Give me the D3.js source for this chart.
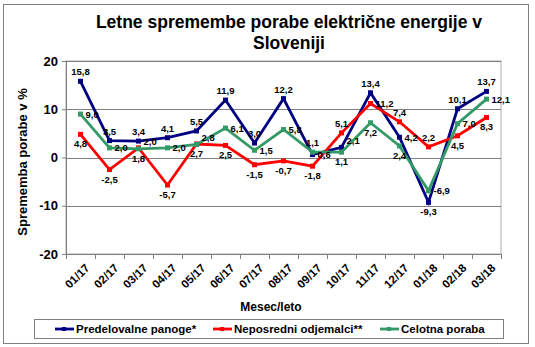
<!DOCTYPE html>
<html><head><meta charset="utf-8">
<script src="https://cdn.jsdelivr.net/npm/d3@7"></script>
<style>body{margin:0;background:#fff}svg{display:block;font-family:"Liberation Sans",Arial,sans-serif}</style>
</head><body><svg id="c" width="535" height="347"></svg>
<script>
const months = ["01/17","02/17","03/17","04/17","05/17","06/17","07/17","08/17","09/17","10/17","11/17","12/17","01/18","02/18","03/18"];
const predelovalne = [15.8,3.5,3.4,4.1,5.5,11.9,3.0,12.2,0.6,2.1,13.4,4.2,-9.3,10.1,13.7];
const neposredni = [4.8,-2.5,2.0,-5.7,2.8,2.5,-1.5,-0.7,-1.8,5.1,11.2,7.4,2.2,4.5,8.3];
const celotna = [9.0,2.0,1.8,2.0,2.7,6.1,1.5,5.8,1.1,1.1,7.2,2.4,-6.9,7.0,12.1];
const yTicks = [-20,-10,0,10,20];
const seriesNames = ["Predelovalne panoge*","Neposredni odjemalci**","Celotna poraba"];

const series = [
  {name:seriesNames[0], values:predelovalne, color:"#000080"},
  {name:seriesNames[1], values:neposredni, color:"#ff0000"},
  {name:seriesNames[2], values:celotna, color:"#339966"}
];
const fmt = v => d3.format(".1f")(v).replace(".",",").replace("\u2212","-");

const svg = d3.select("#c");
svg.append("rect").attr("x",3.5).attr("y",4.5).attr("width",525).attr("height",339)
  .attr("fill","#fff").attr("stroke","#808080").attr("stroke-width",1);

const x = d3.scaleBand().domain(months).range([66,501]).padding(0);
const y = d3.scaleLinear().domain([-20,20]).range([254,61]);
const cx = i => x(months[i]) + x.bandwidth()/2;

svg.append("rect").attr("x",66).attr("y",61).attr("width",435).attr("height",193)
  .attr("fill","none").attr("stroke","#c8c8c8").attr("stroke-width",1.5);
svg.append("g").selectAll("line").data(yTicks).join("line")
  .attr("x1",66).attr("x2",501).attr("y1",d=>Math.round(y(d))+0.5).attr("y2",d=>Math.round(y(d))+0.5)
  .attr("stroke","#808080").attr("stroke-width",1);

const yAxis = d3.axisLeft(y).tickValues(yTicks).tickSize(4).tickPadding(4).tickFormat(d=>String(d));
const gy = svg.append("g").attr("transform","translate(66,0)").call(yAxis);
gy.select(".domain").attr("stroke","#808080");
gy.selectAll(".tick line").attr("stroke","#808080");
gy.selectAll("text").attr("font-size",13).attr("font-weight","bold").attr("fill","#000")
  .attr("font-family","Liberation Sans, Arial, sans-serif");

const gx = svg.append("g").attr("transform","translate(0,254)");
gx.append("line").attr("x1",66).attr("x2",501).attr("y1",0.5).attr("y2",0.5).attr("stroke","#808080");
const bounds = months.map(m=>x(m)).concat([x.range()[1]]);
gx.selectAll("line.tk").data(bounds).join("line").attr("class","tk")
  .attr("x1",d=>Math.round(d)+0.5).attr("x2",d=>Math.round(d)+0.5).attr("y1",0).attr("y2",5)
  .attr("stroke","#808080");
gx.selectAll("text").data(months).join("text")
  .attr("transform",d=>`translate(${x(d)+x.bandwidth()/2+4},9) rotate(-45)`)
  .attr("text-anchor","end").attr("dy","0.7em")
  .attr("font-size",11.5).attr("font-weight","bold").text(d=>d);

const line = d3.line().x((d,i)=>cx(i)).y(d=>y(d));
series.forEach(s=>{
  const g = svg.append("g");
  g.append("path").datum(s.values).attr("d",line).attr("fill","none")
    .attr("stroke",s.color).attr("stroke-width",2.8).attr("stroke-linejoin","miter");
  g.selectAll("rect").data(s.values).join("rect")
    .attr("x",(d,i)=>cx(i)-2.5).attr("y",d=>y(d)-2.5)
    .attr("width",5).attr("height",5).attr("fill",s.color);
});

// labels: highest above, lowest below, middle to the right
const lg = svg.append("g");
months.forEach((m,i)=>{
  const order = series.map((s,k)=>k).sort((a,b)=>series[b].values[i]-series[a].values[i]);
  const vals = order.map(k=>series[k].values[i]);
  order.forEach((k,rank)=>{
    const v = series[k].values[i];
    let px = cx(i), py = y(v), anchor = "middle";
    if (rank===0) { py -= 6; }
    else if (rank===2) { py += 13; }
    else { px += 5; anchor = "start"; py += (vals[1]-vals[2] < 1.5) ? -3 : 3.5; }
    lg.append("text").attr("x",px).attr("y",py).attr("text-anchor",anchor)
      .attr("font-size",9.5).attr("font-weight","bold").attr("fill","#000").text(fmt(v));
  });
});

svg.append("text").attr("x",289).attr("y",28).attr("text-anchor","middle")
  .attr("font-size",17.5).attr("font-weight","bold").text("Letne spremembe porabe električne energije v");
svg.append("text").attr("x",289).attr("y",49).attr("text-anchor","middle")
  .attr("font-size",17.5).attr("font-weight","bold").text("Sloveniji");
svg.append("text").attr("transform","translate(27,162) rotate(-90)").attr("text-anchor","middle")
  .attr("font-size",13).attr("font-weight","bold").text("Sprememba porabe v %");
svg.append("text").attr("x",271).attr("y",311).attr("text-anchor","middle")
  .attr("font-size",12).attr("font-weight","bold").text("Mesec/leto");

svg.append("rect").attr("x",34.5).attr("y",319.5).attr("width",469).attr("height",19)
  .attr("fill","#fff").attr("stroke","#808080");
const legX = [55,213,380];
series.forEach((s,i)=>{
  const g = svg.append("g").attr("transform",`translate(${legX[i]},329)`);
  g.append("line").attr("x1",0).attr("x2",19).attr("y1",0).attr("y2",0).attr("stroke",s.color).attr("stroke-width",2.8);
  g.append("rect").attr("x",7).attr("y",-2).attr("width",4).attr("height",4).attr("fill",s.color);
  g.append("text").attr("x",21).attr("y",4).attr("font-size",11.5).attr("font-weight","bold").text(s.name);
});
</script></body></html>
